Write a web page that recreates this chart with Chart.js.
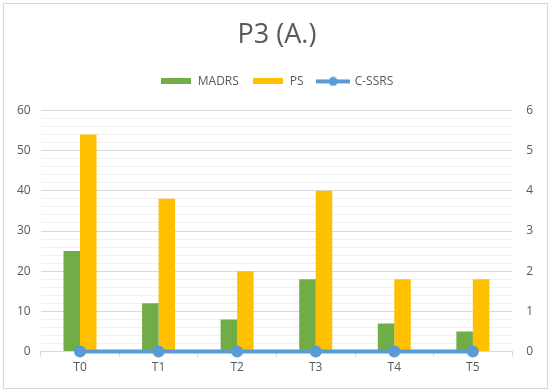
<!DOCTYPE html>
<html>
<head>
<meta charset="utf-8">
<script src="https://cdn.jsdelivr.net/npm/chart.js@4"></script>
<style>
  body { margin: 0; background: #fff; }
  #wrap { position: absolute; left: 3px; top: 3px; width: 543px; height: 384px; border: 1px solid #d9d9d9; }
</style>
</head>
<body>
<div id="wrap"><canvas id="chart"></canvas></div>
<script>
// données
const categories = ['T0', 'T1', 'T2', 'T3', 'T4', 'T5'];
const madrs = [25, 12, 8, 18, 7, 5];
const ps = [54, 38, 20, 40, 18, 18];
const cssrs = [0, 0, 0, 0, 0, 0];
const legendOrder = ['MADRS', 'PS', 'C-SSRS'];

const GREEN = '#70AD47';
const YELLOW = '#FFC000';
const BLUE = '#5B9BD5';
const TEXT = '#595959';

// petites icônes pour la légende
function boxIcon(color) {
  const c = document.createElement('canvas');
  c.width = 30; c.height = 6;
  const g = c.getContext('2d');
  g.fillStyle = color;
  g.fillRect(0, 0, 30, 6);
  return c;
}
function lineIcon(color) {
  const c = document.createElement('canvas');
  c.width = 34; c.height = 10;
  const g = c.getContext('2d');
  g.strokeStyle = color;
  g.lineWidth = 4;
  g.beginPath(); g.moveTo(0, 5); g.lineTo(34, 5); g.stroke();
  g.fillStyle = color;
  g.beginPath(); g.arc(17, 5, 4.5, 0, Math.PI * 2); g.fill();
  return c;
}
const legendIcons = { 'MADRS': boxIcon(GREEN), 'PS': boxIcon(YELLOW), 'C-SSRS': lineIcon(BLUE) };

// un peu d'espace sous la légende
const legendGap = {
  id: 'legendGap',
  beforeInit(chart) {
    const fit = chart.legend.fit;
    chart.legend.fit = function () {
      fit.bind(chart.legend)();
      this.height += 13;
    };
  }
};

new Chart(document.getElementById('chart'), {
  data: {
    labels: categories,
    datasets: [
      { type: 'line', label: 'C-SSRS', data: cssrs, yAxisID: 'y1', order: 0, clip: false,
        borderColor: BLUE, backgroundColor: BLUE, borderWidth: 4,
        pointRadius: 6, pointHoverRadius: 6, pointBorderWidth: 0 },
      { type: 'bar', label: 'MADRS', data: madrs, yAxisID: 'y', order: 1,
        backgroundColor: GREEN, categoryPercentage: 0.42, barPercentage: 1.0 },
      { type: 'bar', label: 'PS', data: ps, yAxisID: 'y', order: 2,
        backgroundColor: YELLOW, categoryPercentage: 0.42, barPercentage: 1.0 }
    ]
  },
  options: {
    responsive: true,
    maintainAspectRatio: false,
    animation: false,
    layout: { padding: { left: 3, right: 0, top: 0, bottom: 9 } },
    plugins: {
      title: { display: true, text: 'P3 (A.)', color: TEXT,
        font: { family: 'Open Sans', size: 27, weight: 'normal' }, padding: { top: 15, bottom: 10 } },
      legend: {
        position: 'top',
        labels: {
          color: TEXT, font: { family: 'Open Sans', size: 12 },
          usePointStyle: true, pointStyleWidth: 31, padding: 14,
          generateLabels(chart) {
            const items = Chart.defaults.plugins.legend.labels.generateLabels(chart);
            items.forEach(it => { it.pointStyle = legendIcons[it.text]; });
            return items;
          },
          sort: (a, b) => legendOrder.indexOf(a.text) - legendOrder.indexOf(b.text)
        }
      },
      tooltip: { enabled: false }
    },
    scales: {
      x: {
        grid: { offset: true, drawOnChartArea: false, drawTicks: true, tickLength: 5, color: '#d9d9d9' },
        border: { color: '#d9d9d9' },
        ticks: { color: TEXT, font: { family: 'Open Sans', size: 12 }, padding: 4 }
      },
      y: {
        position: 'left', min: 0, max: 60,
        border: { display: false },
        grid: { color: ctx => (ctx.tick.value % 10 === 0 ? '#d9d9d9' : '#f0f0f0'), drawTicks: false },
        ticks: { stepSize: 2, autoSkip: false, padding: 10, color: TEXT,
          font: { family: 'Open Sans', size: 12 },
          callback: v => (v % 10 === 0 ? v : '') }
      },
      y1: {
        position: 'right', min: 0, max: 6,
        border: { display: false },
        grid: { drawOnChartArea: false, drawTicks: false },
        ticks: { stepSize: 1, padding: 14, color: TEXT, font: { family: 'Open Sans', size: 12 } }
      }
    }
  },
  plugins: [legendGap]
});
</script>
</body>
</html>
